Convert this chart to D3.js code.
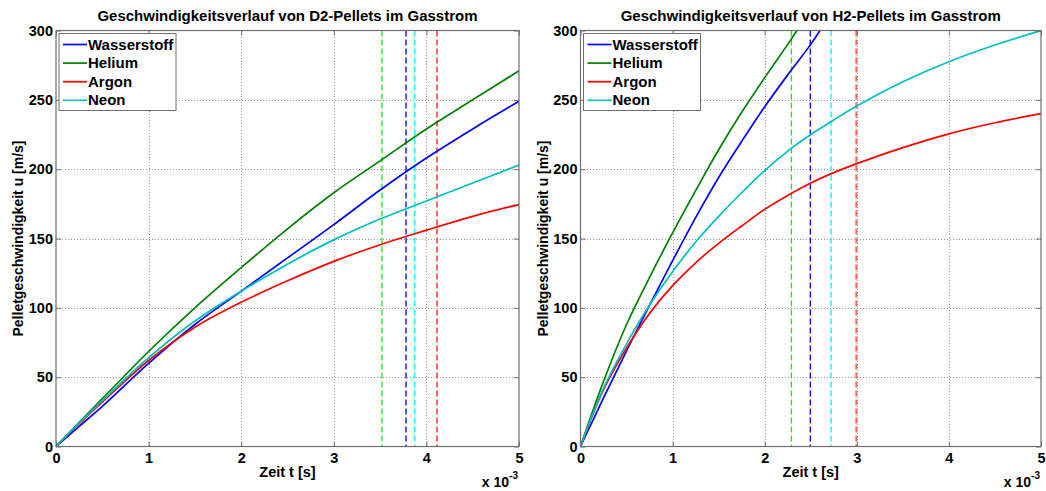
<!DOCTYPE html>
<html>
<head>
<meta charset="utf-8">
<script src="https://cdn.jsdelivr.net/npm/d3@7"></script>
<style>
  body { margin: 0; background: #fff; }
  svg { display: block; font-family: "Liberation Sans", Arial, sans-serif; font-weight: bold; }
</style>
</head>
<body>
<svg id="chart" width="1046" height="491"></svg>
<script>
// ---- Data (time in units of 1e-3 s, velocity in m/s) ----
const seriesNames = ["Wasserstoff", "Helium", "Argon", "Neon"];
const xTicks = [0, 1, 2, 3, 4, 5];
const yTicks = [0, 50, 100, 150, 200, 250, 300];

// D2 pellets (left panel)
const d2Time        = [0, 0.25, 0.5, 1, 1.5, 2, 2.5, 3, 3.5, 4, 4.5, 5];
const d2Wasserstoff = [0, 14.5, 29, 60, 88, 112, 136, 160, 185, 208, 229, 249];
const d2Helium      = [0, 17.5, 34.5, 68.5, 100, 129, 157, 183, 206, 229, 250, 271];
const d2Argon       = [0, 16.5, 32, 62, 86, 104, 119.5, 133.5, 145.5, 156, 166, 174.5];
const d2Neon        = [0, 17, 33, 64, 90.5, 112, 131.5, 149, 164, 177, 190, 203];
// vertical markers, order: Wasserstoff, Helium, Argon, Neon
const d2MarkTimes   = [3.78, 3.52, 4.114, 3.875];

// H2 pellets (right panel)
const h2HeTime  = [0, 0.25, 0.5, 0.75, 1, 1.25, 1.5, 1.75, 2, 2.25, 2.35];
const h2Helium  = [0, 47, 88, 122, 154, 184.5, 214, 241, 266, 290, 300];
const h2WaTime  = [0, 0.25, 0.5, 0.75, 1, 1.25, 1.5, 1.75, 2, 2.25, 2.5, 2.6];
const h2Wasserstoff = [0, 35, 69, 102, 134, 165, 194, 220, 245, 268, 290, 300];
const h2Time    = [0, 0.25, 0.5, 0.75, 1, 1.25, 1.5, 1.75, 2, 2.25, 2.5, 2.75, 3, 3.5, 4, 4.5, 5];
const h2Neon    = [0, 42, 74, 102, 126, 147.5, 166, 183, 199, 213, 225, 235.5, 245.5, 263, 277.5, 289.5, 300];
const h2Argon   = [0, 41, 71, 96, 116, 132.5, 146.5, 159, 171, 181, 190, 197.5, 204, 215.5, 225.5, 233.5, 240];
const h2MarkTimes = [2.495, 2.29, 2.995, 2.72];

const lineColors = ["#0000ff", "#008000", "#ff0000", "#00bfbf"];
const markColors = ["#0000e0", "#22e022", "#ff6060", "#00f0f0"];
const markWidths = [1.3, 1.3, 2, 1.3];

const svg = d3.select("#chart");

function panel(cfg) {
  const g = svg.append("g");
  const x = d3.scaleLinear().domain([0, 5]).range([cfg.x0, cfg.x1]);
  const y = d3.scaleLinear().domain([0, 300]).range([cfg.yb, cfg.yt]);

  const clipId = "clip" + cfg.id;
  svg.append("clipPath").attr("id", clipId).append("rect")
    .attr("x", cfg.x0).attr("y", cfg.yt - 1)
    .attr("width", cfg.x1 - cfg.x0).attr("height", cfg.yb - cfg.yt + 1);

  // grid
  const grid = g.append("g").attr("stroke", "#9a9a9a").attr("stroke-width", 1)
    .attr("stroke-dasharray", "1,2").attr("shape-rendering", "crispEdges");
  grid.selectAll("line.gx").data(xTicks.slice(1, -1)).join("line")
    .attr("x1", d => Math.round(x(d)) + 0.5).attr("x2", d => Math.round(x(d)) + 0.5)
    .attr("y1", cfg.yt).attr("y2", cfg.yb);
  grid.selectAll("line.gy").data(yTicks.slice(1, -1)).join("line")
    .attr("y1", d => Math.round(y(d)) + 0.5).attr("y2", d => Math.round(y(d)) + 0.5)
    .attr("x1", cfg.x0).attr("x2", cfg.x1);

  // vertical dashed markers
  g.append("g").selectAll("line").data(cfg.marks).join("line")
    .attr("x1", d => x(d)).attr("x2", d => x(d))
    .attr("y1", cfg.yt).attr("y2", cfg.yb)
    .attr("stroke", (d, i) => markColors[i])
    .attr("stroke-width", (d, i) => markWidths[i])
    .attr("stroke-dasharray", "6,3");

  // curves
  const line = d3.line().x(d => x(d[0])).y(d => y(d[1])).curve(d3.curveCatmullRom.alpha(0.5));
  const lg = g.append("g").attr("clip-path", `url(#${clipId})`);
  cfg.series.forEach((s) => {
    lg.append("path")
      .datum(s.t.map((t, k) => [t, s.v[k]]))
      .attr("fill", "none")
      .attr("stroke", lineColors[s.c])
      .attr("stroke-width", 1.7)
      .attr("d", line);
  });

  // box
  g.append("rect").attr("x", cfg.x0).attr("y", cfg.yt)
    .attr("width", cfg.x1 - cfg.x0).attr("height", cfg.yb - cfg.yt)
    .attr("fill", "none").attr("stroke", "#6e6e6e").attr("stroke-width", 1.2);

  // axes
  const styleAxis = sel => {
    sel.select(".domain").remove();
    sel.selectAll(".tick line").attr("stroke", "#6e6e6e");
    sel.selectAll(".tick text").attr("fill", "#000").style("font-size", "14.5px")
      .style("font-weight", "bold").style("font-family", "'Liberation Sans', Arial, sans-serif");
  };
  g.append("g").attr("transform", `translate(0,${cfg.yb})`)
    .call(d3.axisBottom(x).tickValues(xTicks).tickFormat(d3.format("d")).tickSizeInner(-5).tickSizeOuter(0).tickPadding(6))
    .call(styleAxis);
  g.append("g").attr("transform", `translate(${cfg.x0},0)`)
    .call(d3.axisLeft(y).tickValues(yTicks).tickFormat(d3.format("d")).tickSizeInner(-5).tickSizeOuter(0).tickPadding(3))
    .call(styleAxis);
  g.append("g").attr("transform", `translate(0,${cfg.yt})`)
    .call(d3.axisTop(x).tickValues(xTicks).tickFormat("").tickSizeInner(-5).tickSizeOuter(0))
    .call(styleAxis);
  g.append("g").attr("transform", `translate(${cfg.x1},0)`)
    .call(d3.axisRight(y).tickValues(yTicks).tickFormat("").tickSizeInner(-5).tickSizeOuter(0))
    .call(styleAxis);

  const cx = (cfg.x0 + cfg.x1) / 2;
  // title
  g.append("text").attr("x", cx).attr("y", 20.5).attr("text-anchor", "middle")
    .style("font-size", "15px").text(cfg.title);
  // x label
  g.append("text").attr("x", cx).attr("y", 477).attr("text-anchor", "middle")
    .style("font-size", "14.5px").text("Zeit t [s]");
  // exponent
  const ex = g.append("text").attr("x", cfg.x1 - 1).attr("y", 487).attr("text-anchor", "end")
    .style("font-size", "14px");
  ex.append("tspan").text("x 10");
  ex.append("tspan").attr("dy", -8).style("font-size", "10px").text("-3");
  // y label
  g.append("text").attr("transform", `translate(${cfg.x0 - 33},${(cfg.yt + cfg.yb) / 2}) rotate(-90)`)
    .attr("text-anchor", "middle").style("font-size", "14px").text("Pelletgeschwindigkeit u [m/s]");

  // legend
  const lx = cfg.x0 + 3, ly = cfg.yt + 3;
  const leg = g.append("g");
  leg.append("rect").attr("x", lx).attr("y", ly).attr("width", 117).attr("height", 77)
    .attr("fill", "#fff").attr("stroke", "#6e6e6e").attr("stroke-width", 1);
  seriesNames.forEach((n, i) => {
    const yy = ly + 11 + i * 18.6;
    leg.append("line").attr("x1", lx + 4).attr("x2", lx + 28).attr("y1", yy).attr("y2", yy)
      .attr("stroke", lineColors[i]).attr("stroke-width", 1.7);
    leg.append("text").attr("x", lx + 29).attr("y", yy + 5).style("font-size", "15px").text(n);
  });
}

panel({
  id: "L", x0: 56, x1: 519, yt: 30.5, yb: 446.5,
  title: "Geschwindigkeitsverlauf von D2-Pellets im Gasstrom",
  marks: d2MarkTimes,
  series: [
    { t: d2Time, v: d2Wasserstoff, c: 0 },
    { t: d2Time, v: d2Helium, c: 1 },
    { t: d2Time, v: d2Argon, c: 2 },
    { t: d2Time, v: d2Neon, c: 3 }
  ]
});
panel({
  id: "R", x0: 580.5, x1: 1041, yt: 30.5, yb: 446.5,
  title: "Geschwindigkeitsverlauf von H2-Pellets im Gasstrom",
  marks: h2MarkTimes,
  series: [
    { t: h2WaTime, v: h2Wasserstoff, c: 0 },
    { t: h2HeTime, v: h2Helium, c: 1 },
    { t: h2Time, v: h2Argon, c: 2 },
    { t: h2Time, v: h2Neon, c: 3 }
  ]
});
</script>
</body>
</html>
